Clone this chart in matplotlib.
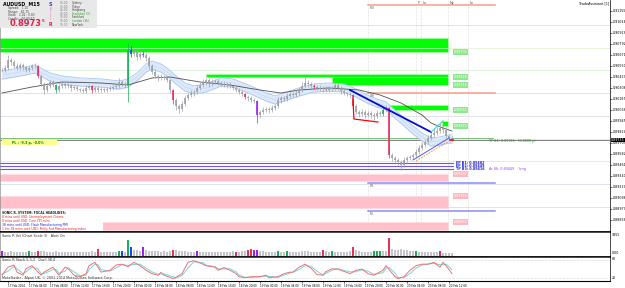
import numpy as np
import matplotlib.pyplot as plt
from matplotlib.patches import Rectangle

PIP = 0.0001

# visible M15 candles (close prices, left to right)
closes = [0.90505, 0.90527, 0.90615, 0.90593, 0.90549, 0.90527, 0.90560, 0.90538, 0.90505, 0.90527,
          0.90549, 0.90549, 0.90439, 0.90351, 0.90285, 0.90329, 0.90373, 0.90340, 0.90285, 0.90329,
          0.90351, 0.90329, 0.90340, 0.90307, 0.90318, 0.90296, 0.90285, 0.90274, 0.90307, 0.90329,
          0.90285, 0.90307, 0.90285, 0.90296, 0.90285, 0.90296, 0.90307, 0.90318, 0.90329, 0.90373,
          0.90351, 0.90340, 0.90725, 0.90681, 0.90703, 0.90648, 0.90681, 0.90670, 0.90637, 0.90549,
          0.90483, 0.90439, 0.90417, 0.90428, 0.90417, 0.90395, 0.90285, 0.90175, 0.90109, 0.90076,
          0.90131, 0.90197, 0.90230, 0.90252, 0.90263, 0.90307, 0.90340, 0.90362, 0.90395, 0.90351,
          0.90373, 0.90384, 0.90362, 0.90351, 0.90340, 0.90351, 0.90329, 0.90307, 0.90285, 0.90263,
          0.90241, 0.90208, 0.90197, 0.90175, 0.90164, 0.90010, 0.90043, 0.90065, 0.90076, 0.90065,
          0.90087, 0.90109, 0.90175, 0.90197, 0.90186, 0.90219, 0.90241, 0.90230, 0.90252, 0.90285,
          0.90329, 0.90362, 0.90351, 0.90329, 0.90318, 0.90307, 0.90296, 0.90307, 0.90285, 0.90296,
          0.90307, 0.90340, 0.90307, 0.90274, 0.90252, 0.90241, 0.90230, 0.90109, 0.90043, 0.90021,
          0.90043, 0.90010, 0.90032, 0.90010, 0.89999, 0.90032, 0.90021, 0.90065, 0.90087, 0.89570,
          0.89537, 0.89515, 0.89493, 0.89460, 0.89515, 0.89537, 0.89548, 0.89570, 0.89603, 0.89647,
          0.89680, 0.89713, 0.89757, 0.89790, 0.89812, 0.89834, 0.89867, 0.89845, 0.89779, 0.89757,
          0.89746]
# wicks beyond the body, in pips
wick_up = [2, 3, 5, 2, 2, 3, 2, 2, 1, 2, 2, 3, 1, 2, 2, 3, 2, 2, 1, 2,
           3, 2, 2, 1, 2, 2, 1, 2, 3, 2, 1, 2, 2, 2, 1, 2, 2, 2, 3, 4,
           2, 2, 8, 4, 5, 3, 4, 3, 2, 2, 2, 3, 2, 3, 2, 2, 1, 1, 2, 2,
           3, 2, 2, 3, 2, 3, 3, 4, 2, 2, 3, 2, 2, 2, 3, 2, 2, 1, 2, 2,
           2, 1, 2, 2, 2, 1, 2, 3, 2, 2, 3, 2, 3, 2, 2, 3, 2, 2, 3, 3,
           4, 7, 3, 2, 2, 2, 3, 2, 2, 3, 2, 4, 2, 2, 2, 1, 2, 1, 2, 2,
           3, 2, 2, 2, 2, 3, 2, 3, 3, 1, 2, 2, 2, 2, 3, 2, 2, 2, 3, 3,
           3, 3, 3, 3, 4, 4, 5, 5, 3, 2, 2]
wick_dn = [2, 2, 2, 3, 2, 2, 2, 3, 2, 2, 2, 2, 2, 2, 4, 2, 2, 2, 3, 2,
           2, 2, 2, 3, 2, 2, 2, 2, 2, 2, 3, 2, 2, 2, 2, 2, 2, 2, 2, 2,
           2, 3, 19, 3, 2, 3, 2, 2, 3, 3, 2, 2, 3, 2, 2, 2, 3, 4, 4, 4,
           2, 2, 2, 2, 3, 2, 2, 2, 2, 3, 2, 2, 2, 2, 2, 3, 2, 2, 2, 2,
           2, 2, 3, 2, 2, 9, 3, 2, 2, 3, 2, 2, 2, 3, 2, 2, 2, 2, 2, 2,
           2, 2, 3, 2, 2, 2, 2, 3, 2, 2, 2, 2, 2, 3, 2, 2, 3, 3, 2, 3,
           2, 3, 2, 3, 4, 2, 2, 2, 2, 3, 3, 3, 3, 6, 2, 2, 2, 2, 2, 2,
           2, 2, 2, 2, 2, 2, 2, 3, 2, 2, 2]
# candles that the price/volume indicator colours
pva_candles = {12: 'red', 18: 'green', 30: 'red', 42: 'green', 43: 'blue', 47: 'purple',
               57: 'red', 81: 'red', 85: 'purple', 104: 'red', 117: 'red', 127: 'green', 129: 'red'}

volumes = [700, 560, 520, 600, 480, 520, 560, 500, 460, 720, 560, 520, 650, 600, 640, 560, 520, 480, 600, 540,
           500, 520, 480, 560, 500, 460, 520, 480, 540, 500, 620, 560, 1000, 540, 500, 480, 460, 520, 560, 600,
           640, 560, 2200, 1200, 760, 820, 700, 1200, 760, 700, 640, 680, 600, 560, 620, 580, 700, 850, 760, 700,
           640, 600, 560, 520, 560, 700, 560, 520, 500, 540, 500, 480, 520, 560, 540, 500, 480, 600, 500, 520,
           600, 640, 850, 880, 820, 860, 640, 600, 560, 520, 500, 540, 650, 560, 520, 650, 560, 500, 520, 560,
           620, 700, 600, 560, 520, 540, 560, 850, 640, 560, 600, 520, 480, 500, 520, 560, 600, 1200, 800, 620,
           540, 560, 500, 520, 700, 720, 700, 620, 640, 2400, 900, 820, 760, 900, 800, 760, 700, 640, 600, 560,
           520, 500, 480, 460, 500, 480, 600, 440, 420, 400, 380]
vol_colors = {0: 'purple', 9: 'green', 12: 'red', 32: 'red', 39: 'green', 40: 'blue', 42: 'green', 43: 'blue',
              47: 'purple', 57: 'red', 65: 'purple', 78: 'red', 82: 'red', 83: 'red', 84: 'purple', 85: 'purple',
              92: 'green', 95: 'green', 107: 'red', 110: 'green', 117: 'red', 124: 'green', 125: 'green',
              126: 'green', 129: 'red', 138: 'green', 146: 'red'}

# Sonic R dragon (EMA34 band) and the slow EMA
dragon_idx = [0, 6, 11, 16, 20, 26, 33, 39, 42, 45, 48, 50, 53, 55, 58, 61, 64, 68, 73, 77,
              83, 88, 91, 94, 99, 104, 109, 114, 118, 121, 124, 128, 131, 134, 137, 140, 143, 146, 149, 150]
dragon_mid = [0.90450, 0.90483, 0.90516, 0.90428, 0.90395, 0.90373, 0.90362, 0.90340, 0.90362, 0.90428,
              0.90527, 0.90560, 0.90527, 0.90483, 0.90395, 0.90318, 0.90285, 0.90307, 0.90373, 0.90362,
              0.90285, 0.90208, 0.90175, 0.90208, 0.90263, 0.90307, 0.90318, 0.90307, 0.90252, 0.90197,
              0.90153, 0.90109, 0.90021, 0.89933, 0.89845, 0.89768, 0.89713, 0.89724, 0.89746, 0.89746]
DRAGON_HALF = 0.00045
ema_idx = [0, 10, 20, 33, 42, 50, 56, 66, 76, 86, 93, 99, 109, 119, 126, 133, 140, 143, 147, 150]
ema_slow = [0.90252, 0.90318, 0.90373, 0.90362, 0.90340, 0.90417, 0.90428, 0.90373, 0.90340, 0.90285,
            0.90252, 0.90285, 0.90307, 0.90285, 0.90230, 0.90142, 0.90010, 0.89922, 0.89867, 0.89834]

# stochastic 5,3,3
stoch_idx = [0, 2, 4, 5, 7, 8, 10, 12, 13, 14, 17, 18, 19, 21, 22, 24, 26, 28, 29, 31,
             32, 33, 36, 38, 40, 42, 44, 46, 48, 50, 52, 53, 54, 57, 58, 60, 62, 64, 67, 68,
             71, 72, 74, 76, 78, 79, 81, 83, 86, 88, 89, 92, 94, 96, 97, 99, 101, 103, 105, 107,
             108, 110, 112, 113, 116, 118, 120, 122, 124, 127, 128, 129, 131, 132, 134, 136, 138, 140, 142, 144,
             146, 147, 148, 150]
stoch_main = [29, 55, 62, 39, 29, 50, 60, 39, 29, 39, 55, 41, 29, 55, 51, 29, 24, 34, 60, 71,
              55, 39, 45, 62, 65, 57, 71, 60, 45, 34, 29, 38, 29, 18, 22, 34, 71, 76, 65, 60,
              55, 45, 54, 45, 34, 24, 21, 24, 24, 29, 21, 24, 34, 39, 39, 55, 65, 52, 31, 29,
              41, 50, 49, 45, 34, 45, 49, 34, 29, 45, 60, 48, 24, 18, 24, 45, 60, 65, 65, 71,
              55, 71, 60, 34]
stoch_sig = [32, 42, 58, 50, 34, 40, 55, 50, 34, 34, 47, 48, 35, 42, 53, 40, 27, 29, 47, 65,
             63, 47, 42, 53, 63, 61, 64, 65, 52, 40, 32, 33, 33, 24, 20, 28, 52, 73, 70, 62,
             57, 50, 49, 50, 40, 29, 22, 22, 24, 26, 25, 22, 29, 36, 39, 47, 60, 58, 42, 30,
             35, 45, 50, 47, 40, 40, 47, 42, 32, 37, 52, 54, 36, 21, 21, 34, 52, 62, 65, 68,
             63, 63, 65, 47]

# supply / demand zones: (from bar, to bar, low, high)
supply = [(-1, 148.7, 0.90747, 0.90862), (-1, 148.7, 0.90703, 0.90747),
          (68, 148.7, 0.90428, 0.90461), (110, 148.7, 0.90340, 0.90428),
          (129.3, 148.7, 0.90065, 0.90120), (146.7, 148.7, 0.89889, 0.89944)]
demand = [(-1, 148.7, 0.89284, 0.89361), (-1, 148.7, 0.88987, 0.89119),
          (-1, 148.7, 0.88745, 0.88833)]
round_levels = [0.9100, 0.9075, 0.9050, 0.9025, 0.9000, 0.8975, 0.8950, 0.8925, 0.8900]
round_colors = ['#dcdcf0', '#e6f5d2', '#d6f0d6', '#dcdcf0', '#dcdcf0', '#d6f0d6', '#d6f0d6', '#dcdcf0', '#dcdcf0']

entries = [0.89482, 0.89449, 0.89416]
entry_names = ['EP B1', 'EP B2', 'TP B3']
tp_price = 0.89745
bid = 0.89735
hl_levels = [0.91220, 0.90252, 0.89262, 0.88954]
hl_names = ['MH', 'WH', 'WL', 'ML']
hl_colors = ['#f4a08c', '#f4a08c', '#8c8cf0', '#8c8cf0']
session_idx = [122, 138, 139.7, 148.7, 155.3]
session_names = ['', 'P', 'Lo', 'Ny', 'Lo']

down_idx, down_px = [116, 143], [0.90285, 0.89823]
cyan_idx, cyan_px = [143, 147], [0.89823, 0.89944]
sup_idx, sup_px = [137, 149], [0.89515, 0.89757]
sup2_idx, sup2_px = [138, 149], [0.89504, 0.89724]
red_idx, red_px = [117, 117.3, 125.3], [0.90175, 0.89966, 0.89933]

price_ticks = [0.91155, 0.91034, 0.90913, 0.90792, 0.90671, 0.90550, 0.90429, 0.90308, 0.90187, 0.90066,
               0.89945, 0.89824, 0.89703, 0.89582, 0.89461, 0.89340, 0.89219, 0.89098, 0.88977, 0.88856]
time_idx = [2, 9, 16, 23, 30, 37, 44, 51, 58, 65, 72, 79, 86, 93, 100, 107, 114, 121, 128, 135, 142, 149]
time_labels = ['17 Feb 2014', '17 Feb 04:00', '17 Feb 08:00', '17 Feb 12:00', '17 Feb 16:00', '17 Feb 20:00',
               '18 Feb 00:00', '18 Feb 04:00', '18 Feb 08:00', '18 Feb 12:00', '18 Feb 16:00', '18 Feb 20:00',
               '19 Feb 00:00', '19 Feb 04:00', '19 Feb 08:00', '19 Feb 12:00', '19 Feb 16:00', '19 Feb 20:00',
               '20 Feb 00:00', '20 Feb 04:00', '20 Feb 08:00', '20 Feb 12:00']

COL = {'grey': '#a0a0a8', 'red': '#e8305a', 'green': '#19b05a', 'blue': '#2040ff', 'purple': '#a020f0'}

W, H = 625, 288
fig = plt.figure(figsize=(W / 100, H / 100), dpi=100)
fig.patch.set_facecolor('white')


def fx(px):
    return px / W


def fy(py):
    return 1 - py / H


def panel(top, bottom):
    return fig.add_axes([0, fy(bottom), fx(610), (bottom - top) / H])


ax = panel(0, 232)
axv = panel(232, 256.5)
axs = panel(256.5, 281)
XL = (-0.667, 202.667)

# ---------------- main chart ----------------
ax.set_xlim(*XL)
ax.set_ylim(0.88723, 0.91275)

for lv, c in zip(round_levels, round_colors):
    ax.axhline(lv, color=c, lw=0.6, zorder=0.5)

for x0, x1, lo, hi in supply:
    ax.add_patch(Rectangle((x0, lo), x1 - x0, hi - lo, facecolor='#00ff00', edgecolor='#b8f5b8', lw=0.4, zorder=1))
for x0, x1, lo, hi in demand:
    ax.add_patch(Rectangle((x0, lo), x1 - x0, hi - lo, facecolor='#ffc0cb', edgecolor='#ffd8de', lw=0.4, zorder=1))
for x0, x1, lo, hi in supply[1:]:
    ax.text(150.6, lo, f'{lo:.5f}', fontsize=2.3, color='white', va='center', zorder=7,
            bbox=dict(boxstyle='square,pad=0.25', fc='#8ee88e', ec='none'))
for x0, x1, lo, hi in demand:
    ax.text(150.6, hi, f'{hi:.5f}', fontsize=2.3, color='white', va='center', zorder=7,
            bbox=dict(boxstyle='square,pad=0.25', fc='#ffb6c1', ec='none'))

for s, name in zip(session_idx, session_names):
    ax.axvline(s, color='#c0c0c0', lw=0.4, ls=(0, (1, 1.5)), zorder=0.6)
    ax.text(s + 0.6, 0.9122, name, fontsize=2.4, color='#505050', va='bottom', zorder=7)

for lv, name, c in zip(hl_levels, hl_names, hl_colors):
    ax.plot([122, 164.3], [lv, lv], color=c, lw=1.1, zorder=2)
    ax.text(122.5, lv - 0.0001, name, fontsize=2.2, color='#606060', va='top', zorder=7)

ax.axhline(bid, color='#707070', lw=0.6, zorder=2)
ax.plot([-1, 163.7], [tp_price + 0.0001, tp_price + 0.0001], color='#7fc07f', lw=0.7, zorder=2)
for lv, name in zip(entries, entry_names):
    ax.plot([-1, 150.3], [lv, lv], color='#6a5ae0', lw=0.8, zorder=2)
    ax.text(151.2, lv - 0.00003, f'{name}: {lv:.5f}', fontsize=2.4, color='#2020d0', fontweight='bold',
            va='center', zorder=7)
ax.text(162.5, entries[2] - 0.00005, f'Ar 86: {entries[1]:.5f}    long', fontsize=2.4, color='#a040f0',
        va='center', zorder=7)
ax.text(162.5, tp_price - 0.0002, f'TP B1: {tp_price:.5f}   (0.0000 p)', fontsize=2.4, color='#20a020',
        va='center', zorder=7)

# dragon + slow EMA
d = np.array(dragon_mid)
ax.fill_between(dragon_idx, d - DRAGON_HALF, d + DRAGON_HALF, color='#dde9fa', zorder=2, lw=0)
ax.plot(dragon_idx, d - DRAGON_HALF, color='#a8c6ee', lw=0.6, zorder=2.1)
ax.plot(dragon_idx, d + DRAGON_HALF, color='#a8c6ee', lw=0.6, zorder=2.1)
ax.plot(dragon_idx, d, color='#c6dbf5', lw=0.5, zorder=2.1)
ax.plot(ema_idx, ema_slow, color='#505050', lw=0.6, zorder=2.2)

# candles
c = np.array(closes)
o = np.concatenate([[c[0]], c[:-1]])
hi = np.maximum(o, c) + np.array(wick_up) * PIP
lo = np.minimum(o, c) - np.array(wick_dn) * PIP
idx = np.arange(len(c))
cols = [COL[pva_candles.get(i, 'grey')] for i in idx]
ax.vlines(idx, lo, hi, colors=cols, lw=0.5, zorder=4)
ax.vlines(idx, np.minimum(o, c), np.maximum(o, c) + 0.00003, colors=cols, lw=1.2, zorder=4)

# trend lines
ax.plot(down_idx, down_px, color='#0010d0', lw=1.3, zorder=5)
ax.plot(cyan_idx, cyan_px, color='#30d8f0', lw=0.8, zorder=5)
ax.plot(sup_idx, sup_px, color='#4060f0', lw=0.7, zorder=5)
ax.plot(sup2_idx, sup2_px, color='#f0a060', lw=0.7, ls=(0, (2, 1)), zorder=5)
ax.plot(red_idx, red_px, color='#ff0000', lw=0.9, zorder=5)
ax.plot([149.5, 150.5], [bid, bid], color='red', lw=1.2, zorder=6)

ax.set_yticks(price_ticks)
ax.set_yticklabels([f'{t:.5f}' for t in price_ticks])
ax.tick_params(axis='y', left=False, right=True, labelleft=False, labelright=True, labelsize=2.3,
               length=1.2, width=0.4, pad=0.6)
ax.set_xticks([])
ax.text(1.002, bid, f'{bid:.5f}', transform=ax.get_yaxis_transform(), fontsize=2.3, color='white', va='center',
        zorder=8, bbox=dict(boxstyle='square,pad=0.12', fc='black', ec='none'))
ax.text(0.998, 0.995, 'TradeAssistant [1]', transform=ax.transAxes, fontsize=2.4, ha='right', va='top')

# ---------------- volume ----------------
axv.set_xlim(*XL)
axv.set_ylim(-100, 3300)
vcols = ['#c4c4cc' if i not in vol_colors else COL[vol_colors[i]] for i in range(len(volumes))]
axv.bar(range(len(volumes)), volumes, width=0.45, color=vcols, zorder=2)
axv.set_xticks([])
axv.set_yticks([])
axv.text(0.004, 0.93, 'Sonic R Vol (Chart Scale 3)   Alert On', transform=axv.transAxes, fontsize=2.4,
         color='#303030', va='top')
axv.text(1.003, 0.88, '3355', transform=axv.transAxes, fontsize=2.3, va='center')
axv.text(1.003, 0.14, '0.00', transform=axv.transAxes, fontsize=2.3, va='center')

# ---------------- stochastic ----------------
axs.set_xlim(*XL)
axs.set_ylim(10, 90)
axs.axhline(80, color='#b0b0b0', lw=0.4, ls=(0, (1, 1.5)))
axs.axhline(20, color='#b0b0b0', lw=0.4, ls=(0, (1, 1.5)))
axs.plot(stoch_idx, stoch_sig, color='#70d8d8', lw=0.7, zorder=3)
axs.plot(stoch_idx, stoch_main, color='#f07070', lw=0.7, zorder=3)
axs.set_yticks([])
axs.set_xticks(time_idx)
axs.set_xticklabels(time_labels)
axs.tick_params(axis='x', labelsize=2.0, length=1.2, width=0.4, pad=0.8)
for t in axs.get_xticklabels():
    t.set_ha('left')
axs.text(0.004, 0.93, 'Sonic R Stoch 5,3,3   Oscil 38.4', transform=axs.transAxes, fontsize=2.4,
         color='#303030', va='top')
axs.text(0.004, 0.06, 'MetaTrader - Alpari UK, \u00a9 2001-2014 MetaQuotes Software Corp.', transform=axs.transAxes,
         fontsize=2.4, color='#303030', va='bottom')
axs.text(1.003, 0.88, '80', transform=axs.transAxes, fontsize=2.3, va='center')
axs.text(1.003, 0.14, '20', transform=axs.transAxes, fontsize=2.3, va='center')

for a in (ax, axv, axs):
    for side in ('top', 'bottom', 'left', 'right'):
        a.spines[side].set_color('black')
        a.spines[side].set_linewidth(0.5)
    a.spines['left'].set_color('#909090')
ax.spines['top'].set_visible(False)
ax.spines['bottom'].set_linewidth(1.3)
axv.spines['bottom'].set_linewidth(1.3)
axs.spines['bottom'].set_linewidth(0.8)

# ---------------- overlays: info box, P/L box, news ----------------
fig.add_artist(Rectangle((fx(0), fy(28)), fx(97), 28 / H, transform=fig.transFigure, fc='#e8e8e8', ec='none',
                         zorder=10))
fig.text(fx(3), fy(4), 'AUDUSD  M15', fontsize=3.4, fontweight='bold', va='center', zorder=11)
for k, line in enumerate(['Spread:   1.10', 'Range:   81.75', 'Stats:   1.02 : 0.83', 'Candle:   00:09:50']):
    fig.text(fx(8), fy(8 + 3.6 * k), line, fontsize=2.1, color='#404040', va='center', zorder=11)
fig.text(fx(10), fy(24), '0.8973', fontsize=6.0, fontweight='bold', color='#e0204a', va='center', zorder=11)
fig.text(fx(42), fy(21.5), '5', fontsize=3.0, fontweight='bold', color='#e0204a', va='center', zorder=11)
fig.text(fx(49), fy(4), 'S', fontsize=3.4, fontweight='bold', color='#2040d0', va='center', zorder=11)
fig.text(fx(49), fy(24), 'R', fontsize=3.4, fontweight='bold', color='#e0204a', va='center', zorder=11)
for k, mk in enumerate(['6', 'I', 'I', 'I']):
    fig.text(fx(50), fy(9 + 3.4 * k), mk, fontsize=2.0, color='#d040a0', va='center', zorder=11)
sessions = ['Sydney', 'Tokyo', 'Hongkong', 'Frankfurt (3)', 'Frankfurt', 'London (3h)', 'NewYork']
sess_time = ['06:00', '00:00', '02:00', '08:00', '10:00', '10:00', '15:00']
sess_col = ['#404040', '#404040', '#404040', '#20a020', '#404040', '#20a020', '#404040']
for k, (nm, tm, cl) in enumerate(zip(sessions, sess_time, sess_col)):
    fig.text(fx(60), fy(3 + 3.6 * k), tm, fontsize=2.1, color='#808080', va='center', zorder=11)
    fig.text(fx(72), fy(3 + 3.6 * k), nm, fontsize=2.1, color=cl, va='center', zorder=11)

fig.add_artist(Rectangle((fx(2), fy(145)), fx(55), 5 / H, transform=fig.transFigure, fc='#ffff90', ec='none',
                         zorder=10))
fig.text(fx(12), fy(142.5), 'PL : -9.3 p, -0.0%', fontsize=2.4, color='#108010', fontweight='bold', va='center',
         zorder=11)

fig.add_artist(Rectangle((fx(1), fy(231)), fx(102), 21 / H, transform=fig.transFigure, fc='white', ec='none',
                         zorder=10))
news = [('SONIC R. SYSTEM: FOCAL HEADLINES:', '#202020'),
        ('8 mins until USD: Unemployment Claims', '#e02020'),
        ('8 mins until USD: Core CPI m/m', '#e02020'),
        ('38 mins until USD: Flash Manufacturing PMI', '#2020e0'),
        ('1 hrs 38 mins until USD: Philly Fed Manufacturing Index', '#e02020')]
for k, (txt, cl) in enumerate(news):
    fig.text(fx(2), fy(213 + 4 * k), txt, fontsize=2.2, color=cl, va='center', zorder=11,
             fontweight='bold' if k == 0 else 'normal')

fig.savefig('out.png', dpi=100)
